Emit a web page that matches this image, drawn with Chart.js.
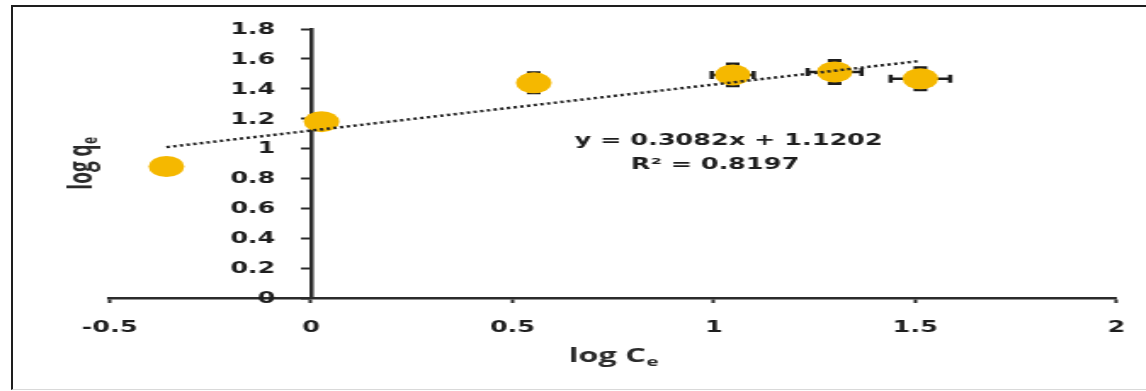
<!DOCTYPE html>
<html>
<head>
<meta charset="utf-8">
<title>log qe vs log Ce</title>
<script src="https://cdn.jsdelivr.net/npm/chart.js@4/dist/chart.umd.min.js"></script>
<style>
  body { margin: 0; background: #fff; overflow: hidden; }
  /* el grafico se dibuja angosto y se estira a lo ancho */
  #lienzo { position: absolute; left: 0; top: 0; transform: scaleX(1.7); transform-origin: 0 0; }
  #marco { position: absolute; left: 11px; top: 5px; width: 1140px; height: 382px;
           border-top: 2px solid #1e1e1e; border-left: 2px solid #1e1e1e; border-bottom: 1px solid #d9d9d9;
           pointer-events: none; }
</style>
</head>
<body>
<div id="lienzo"><canvas id="myChart" width="678" height="391"></canvas></div>
<div id="marco"></div>
<script>
// datos de la isoterma (log Ce, log qe) con sus barras de error
var logCe = [-0.359, 0.026, 0.553, 1.047, 1.300, 1.513];
var logQe = [0.88, 1.18, 1.44, 1.493, 1.513, 1.467];
var errX = [0, 0, 0, 0.052, 0.067, 0.074];
var errY = [0, 0, 0.067, 0.073, 0.077, 0.073];

var xTicks = [-0.5, 0, 0.5, 1, 1.5, 2];
var yTicks = [0, 0.2, 0.4, 0.6, 0.8, 1, 1.2, 1.4, 1.6, 1.8];

// linea de tendencia
var pendiente = 0.3082;
var intercepto = 1.1202;
var r2 = 0.8197;

const negro = '#1e1e1e';
const amarillo = '#F5B800';
const fuenteEje = { family: 'DejaVu Sans', weight: 'bold', size: 15 };

const puntos = logCe.map((x, i) => ({ x: x, y: logQe[i] }));
const xMin = Math.min(...logCe);
const xMax = Math.max(...logCe);
const tendencia = [
  { x: xMin, y: pendiente * xMin + intercepto },
  { x: xMax, y: pendiente * xMax + intercepto }
];

// barras de error debajo de los puntos
const barrasError = {
  id: 'barrasError',
  beforeDatasetsDraw(chart) {
    const ctx = chart.ctx;
    const sx = chart.scales.x, sy = chart.scales.y;
    ctx.save();
    ctx.strokeStyle = negro;
    for (let i = 0; i < logCe.length; i++) {
      const px = sx.getPixelForValue(logCe[i]);
      const py = sy.getPixelForValue(logQe[i]);
      if (errY[i] > 0) {
        const y1 = sy.getPixelForValue(logQe[i] + errY[i]);
        const y2 = sy.getPixelForValue(logQe[i] - errY[i]);
        ctx.lineWidth = 1.6;
        ctx.beginPath();
        ctx.moveTo(px, y1); ctx.lineTo(px, y2);
        ctx.stroke();
        ctx.lineWidth = 3;
        ctx.beginPath();
        ctx.moveTo(px - 4, y1); ctx.lineTo(px + 4, y1);
        ctx.moveTo(px - 4, y2); ctx.lineTo(px + 4, y2);
        ctx.stroke();
      }
      if (errX[i] > 0) {
        const x1 = sx.getPixelForValue(logCe[i] - errX[i]);
        const x2 = sx.getPixelForValue(logCe[i] + errX[i]);
        ctx.lineWidth = 2.5;
        ctx.beginPath();
        ctx.moveTo(x1, py); ctx.lineTo(x2, py);
        ctx.moveTo(x1, py - 4); ctx.lineTo(x1, py + 4);
        ctx.moveTo(x2, py - 4); ctx.lineTo(x2, py + 4);
        ctx.stroke();
      }
    }
    ctx.restore();
  }
};

// texto con subindice, centrado en (x, y)
function textoSub(ctx, base, sub, x, y, size) {
  const chico = Math.round(size * 0.62);
  ctx.font = 'bold ' + size + 'px "Open Sans"';
  const w1 = ctx.measureText(base).width;
  ctx.font = 'bold ' + chico + 'px "Open Sans"';
  const w2 = ctx.measureText(sub).width;
  const x0 = x - (w1 + w2) / 2;
  ctx.textAlign = 'left';
  ctx.textBaseline = 'middle';
  ctx.font = 'bold ' + size + 'px "Open Sans"';
  ctx.fillText(base, x0, y);
  ctx.font = 'bold ' + chico + 'px "Open Sans"';
  ctx.fillText(sub, x0 + w1 + 0.5, y + size * 0.28);
}

const textos = {
  id: 'textos',
  afterDraw(chart) {
    const ctx = chart.ctx;
    const a = chart.chartArea;
    const sx = chart.scales.x, sy = chart.scales.y;
    ctx.save();

    // etiquetas del eje y, a la izquierda del eje en x = 0
    const ejeY = sx.getPixelForValue(0);
    ctx.fillStyle = negro;
    ctx.font = 'bold 15px "DejaVu Sans"';
    ctx.textAlign = 'right';
    ctx.textBaseline = 'middle';
    yTicks.forEach(v => {
      ctx.fillText(String(v), ejeY - 21, sy.getPixelForValue(v) + 1);
    });

    ctx.fillStyle = '#2a2a2a';
    // titulo eje x
    textoSub(ctx, 'log C', 'e', (a.left + a.right) / 2, a.bottom + 59, 19);
    // titulo eje y (girado)
    ctx.save();
    ctx.translate(a.left - 16, (a.top + a.bottom) / 2);
    ctx.rotate(-Math.PI / 2);
    textoSub(ctx, 'log q', 'e', 0, 0, 19);
    ctx.restore();

    // ecuacion de la tendencia
    ctx.fillStyle = negro;
    ctx.font = 'bold 15px "DejaVu Sans"';
    ctx.textAlign = 'center';
    ctx.textBaseline = 'middle';
    const ex = sx.getPixelForValue(1.02);
    const ey = sy.getPixelForValue(1.05);
    ctx.fillText('y = ' + pendiente.toFixed(4) + 'x + ' + intercepto.toFixed(4), ex + 4, ey);
    ctx.fillText('R\u00B2 = ' + r2.toFixed(4), ex - 4, ey + 24);
    ctx.restore();
  }
};

const canvas = document.getElementById('myChart');
const myChart = new Chart(canvas, {
  type: 'scatter',
  data: {
    datasets: [{
      type: 'line',
      label: 'tendencia',
      data: tendencia,
      borderColor: '#222',
      borderWidth: 2.5,
      borderDash: [2, 2],
      pointRadius: 0,
      fill: false,
      order: 0
    }, {
      label: 'log qe',
      data: puntos,
      backgroundColor: amarillo,
      borderWidth: 0,
      pointRadius: 10.5,
      pointHoverRadius: 10.5,
      order: 1
    }]
  },
  options: {
    responsive: false,
    animation: false,
    layout: { padding: { left: 64.5, right: 20.5, top: 29, bottom: 38 } },
    plugins: {
      legend: { display: false },
      tooltip: { enabled: false }
    },
    scales: {
      x: {
        type: 'linear',
        min: -0.5,
        max: 2,
        position: 'bottom',
        afterBuildTicks: (s) => { s.ticks = xTicks.map(v => ({ value: v })); },
        ticks: { callback: (v) => String(v), font: fuenteEje, color: negro, padding: 16, maxRotation: 0, autoSkip: false },
        grid: { drawOnChartArea: false, color: '#2b2b2b', tickLength: 5, tickWidth: 2 },
        border: { color: '#2b2b2b', width: 2.5 }
      },
      y: {
        type: 'linear',
        min: 0,
        max: 1.8,
        position: { x: 0 },
        afterBuildTicks: (s) => { s.ticks = yTicks.map(v => ({ value: v })); },
        // las etiquetas se dibujan en el plugin "textos"
        ticks: { display: false },
        grid: { drawOnChartArea: false, color: '#2b2b2b', tickLength: 5, tickWidth: 2 },
        border: { color: '#2b2b2b', width: 2.5 }
      }
    }
  },
  plugins: [barrasError, textos]
});
</script>
</body>
</html>
